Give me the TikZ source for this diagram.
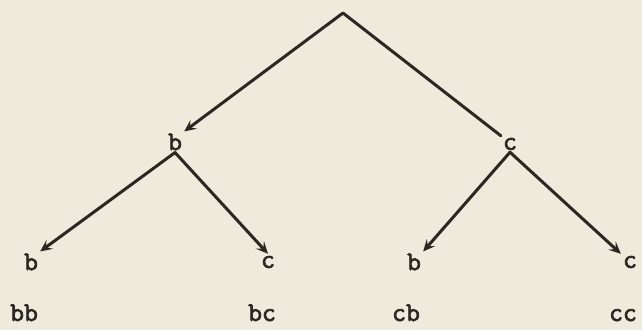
\documentclass[tikz,border=0pt]{standalone}
\usepackage{fontspec}
\newfontfamily\typer{Latin Modern Mono}[FakeBold=2.5]
\usepackage{xcolor}
\usetikzlibrary{positioning,arrows.meta}
\definecolor{paper}{HTML}{EFEBDC}
\definecolor{ink}{HTML}{2B2723}
\tikzset{
  font=\typer\fontsize{27}{30}\selectfont,
  >={Stealth[length=12pt, width=11pt, inset=5pt]},
  leaf/.style   = {text=ink, inner sep=2pt},
  word/.style   = {text=ink, inner sep=0pt, anchor=base},
  edge/.style   = {draw=ink, line width=3pt, line cap=round},
  branch/.style = {->, draw=ink, line width=3pt, line cap=round},
}

\begin{document}
\begin{tikzpicture}[x=1pt, y=-1pt]

% ---- paper ------------------------------------------------------------
\useasboundingbox[fill=paper] (0,0) rectangle (642,330);

% ---- root and first choice --------------------------------------------
\coordinate (top) at (343,13);
\node[leaf] at (175,142) (b) {b};
\node[leaf] at (510,144) (c) {c};

% ---- second choice ----------------------------------------------------
\node[leaf] at ( 31,262) (bb) {b};
\node[leaf] at (268,262) (bc) {c};
\node[leaf] at (414,262) (cb) {b};
\node[leaf] at (630,262) (cc) {c};

% ---- outcomes ---------------------------------------------------------
\node[word] at ( 24,321) (wbb) {bb};
\node[word] at (262,321) (wbc) {bc};
\node[word] at (406,321) (wcb) {cb};
\node[word] at (623,321) (wcc) {cc};

% ---- edges ------------------------------------------------------------
\draw[branch] (top) -- (b.north east);
\draw[edge] (top) -- (c.north west);
\draw[branch] (b.south) -- (bb.north east);
\draw[branch] (b.south) -- (bc.north);
\draw[branch] (c.south) -- (cb.north east);
\draw[branch] (c.south) -- (cc.north west);

\end{tikzpicture}
\end{document}
